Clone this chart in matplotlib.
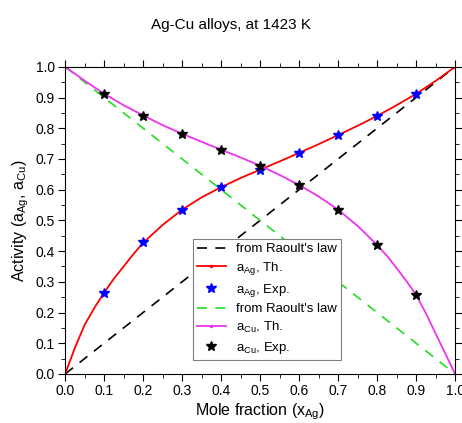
import matplotlib
matplotlib.use("Agg")
import matplotlib.pyplot as plt
from matplotlib.ticker import MultipleLocator

plt.rcParams['font.family'] = ['Liberation Sans', 'DejaVu Sans']
plt.rcParams['mathtext.fontset'] = 'custom'
plt.rcParams['mathtext.rm'] = 'Liberation Sans'
plt.rcParams['mathtext.it'] = 'Liberation Sans'

# theoretical curves
x_ag_th = [0.0, 0.025, 0.05, 0.075, 0.1, 0.125, 0.15, 0.175, 0.2, 0.25, 0.3, 0.35,
           0.4, 0.45, 0.5, 0.55, 0.6, 0.65, 0.7, 0.75, 0.8, 0.85, 0.9, 0.95, 1.0]
a_ag_th = [0.0, 0.085, 0.16, 0.215, 0.265, 0.31, 0.35, 0.39, 0.427, 0.485, 0.535, 0.575,
           0.608, 0.638, 0.665, 0.692, 0.72, 0.748, 0.778, 0.808, 0.84, 0.875, 0.912, 0.954, 1.0]
x_cu_th = [0.0, 0.05, 0.1, 0.15, 0.2, 0.25, 0.3, 0.35, 0.4, 0.45, 0.5, 0.55, 0.6,
           0.65, 0.7, 0.75, 0.8, 0.825, 0.85, 0.875, 0.9, 0.925, 0.95, 0.975, 1.0]
a_cu_th = [1.0, 0.955, 0.912, 0.875, 0.842, 0.81, 0.782, 0.756, 0.73, 0.705, 0.678, 0.648, 0.615,
           0.578, 0.535, 0.482, 0.42, 0.385, 0.345, 0.303, 0.258, 0.198, 0.132, 0.066, 0.0]

# experimental points
x_exp = [0.1, 0.2, 0.3, 0.4, 0.5, 0.6, 0.7, 0.8, 0.9]
a_ag_exp = [0.265, 0.43, 0.535, 0.608, 0.665, 0.72, 0.778, 0.84, 0.912]
a_cu_exp = [0.912, 0.84, 0.782, 0.73, 0.678, 0.615, 0.535, 0.42, 0.258]

# Raoult's law
x_r = [0.0, 1.0]
raoult_ag = [0.0, 1.0]
raoult_cu = [1.0, 0.0]

fig = plt.figure(figsize=(4.62, 4.23), dpi=100)
ax = fig.add_axes([0.141, 0.116, 0.844, 0.726])

ax.plot(x_r, raoult_ag, color='black', ls=(0, (6, 5)), lw=1.2, label="from Raoult's law")
ax.plot(x_ag_th, a_ag_th, color='red', lw=1.3, marker='o', markersize=1.5,
        markevery=[0, len(x_ag_th) - 1], label=r'a$_{\rm Ag}$, Th.')
ax.plot(x_exp, a_ag_exp, ls='none', marker='*', color='blue', markersize=7,
        label=r'a$_{\rm Ag}$, Exp.')
ax.plot(x_r, raoult_cu, color='#22dd22', ls=(0, (6, 5)), lw=1.2, label="from Raoult's law")
ax.plot(x_cu_th, a_cu_th, color='#ee33ee', lw=1.3, marker='o', markersize=1.5,
        markevery=[0, len(x_cu_th) - 1], label=r'a$_{\rm Cu}$, Th.')
ax.plot(x_exp, a_cu_exp, ls='none', marker='*', color='black', markersize=7,
        label=r'a$_{\rm Cu}$, Exp.')

ax.set_xlim(0, 1)
ax.set_ylim(0, 1)
ax.xaxis.set_major_locator(MultipleLocator(0.1))
ax.xaxis.set_minor_locator(MultipleLocator(0.05))
ax.yaxis.set_major_locator(MultipleLocator(0.1))
ax.yaxis.set_minor_locator(MultipleLocator(0.05))
ax.tick_params(which='both', direction='out', top=True, right=True,
               labeltop=False, labelright=False, labelsize=10, pad=2.5)
ax.tick_params(which='major', length=5)
ax.tick_params(which='minor', length=3)
ax.xaxis.set_major_formatter(plt.FormatStrFormatter('%.1f'))
ax.yaxis.set_major_formatter(plt.FormatStrFormatter('%.1f'))

ax.set_xlabel(r'Mole fraction (x$_{\rm Ag}$)', fontsize=11.5, labelpad=2)
ax.set_ylabel(r'Activity (a$_{\rm Ag}$, a$_{\rm Cu}$)', fontsize=11.5, labelpad=3)
fig.suptitle('Ag-Cu alloys, at 1423 K', fontsize=11, y=0.958)

leg = ax.legend(loc='lower left', bbox_to_anchor=(0.31, 0.025), fontsize=9.5,
                fancybox=False, edgecolor='gray', framealpha=1,
                borderpad=0.3, labelspacing=0.35, handlelength=2.2)
leg.get_frame().set_linewidth(0.8)

fig.savefig('out.png', dpi=100)
